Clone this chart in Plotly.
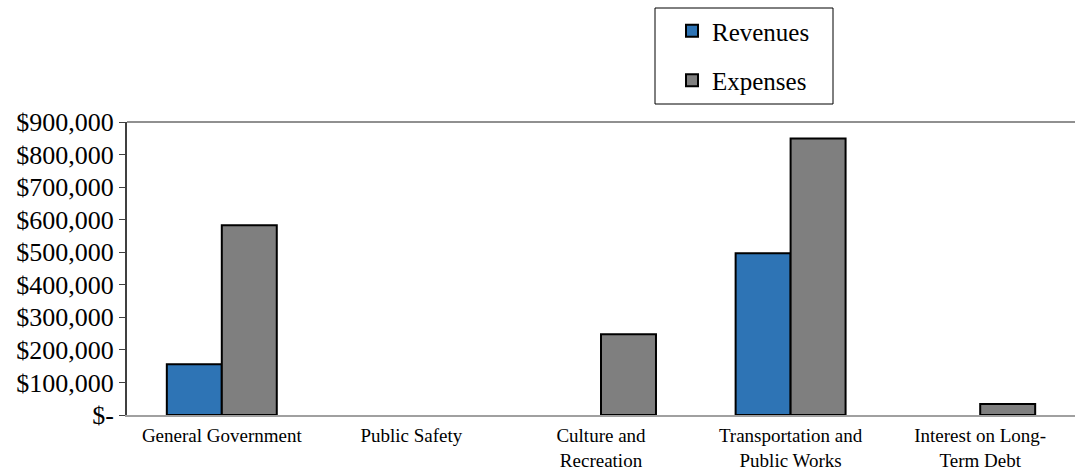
import plotly.graph_objects as go

categories = ["General Government", "Public Safety", "Culture and<br>Recreation",
              "Transportation and<br>Public Works", "Interest on Long-<br>Term Debt"]
revenues = [156000, None, None, 497000, None]
expenses = [583000, None, 248000, 849000, 34000]
tick_vals = [0, 100000, 200000, 300000, 400000, 500000, 600000, 700000, 800000, 900000]
tick_text = ["$-", "$100,000", "$200,000", "$300,000", "$400,000", "$500,000",
             "$600,000", "$700,000", "$800,000", "$900,000"]

L, T, B, W, H = 127, 122, 59, 1076, 474
pw, ph = W - L - 1, H - T - B

def px(x):
    return (x - L) / pw

def py(y):
    return (H - B - y) / ph

fig = go.Figure()
fig.add_trace(go.Bar(x=categories, y=revenues, name="Revenues", legendgroup="r",
                     marker=dict(color="#2E74B5", line=dict(color="black", width=2))))
fig.add_trace(go.Bar(x=categories, y=expenses, name="Expenses", legendgroup="e",
                     marker=dict(color="#7F7F7F", line=dict(color="black", width=2))))

fig.update_layout(
    width=W, height=H,
    margin=dict(l=L, r=1, t=T, b=B),
    paper_bgcolor="white", plot_bgcolor="white",
    font=dict(family="Liberation Serif, Times New Roman, serif", color="black"),
    barmode="group", bargap=0.42, bargroupgap=0,
    legend=dict(x=px(672), y=py(8), xanchor="left", yanchor="top",
                borderwidth=0, bgcolor="rgba(0,0,0,0)", font=dict(size=25),
                tracegroupgap=14, itemwidth=30),
    xaxis=dict(showline=True, linecolor="#A0A0A0", linewidth=2, tickfont=dict(size=19),
               ticks="", mirror=False, ticklabelstandoff=2, automargin=False),
    yaxis=dict(range=[0, 900000], tickvals=tick_vals, ticktext=tick_text,
               showgrid=False, showline=True, linecolor="#404040", linewidth=2,
               ticks="outside", ticklen=6, tickcolor="#404040", tickfont=dict(size=26),
               zeroline=False, automargin=False),
    shapes=[dict(type="line", xref="paper", yref="paper", x0=0, x1=1, y0=1, y1=1,
                 line=dict(color="#909090", width=2)),
            dict(type="rect", xref="paper", yref="paper", x0=px(655), x1=px(833),
                 y0=py(104), y1=py(8), line=dict(color="black", width=1))],
)
fig.write_html("out.html")
